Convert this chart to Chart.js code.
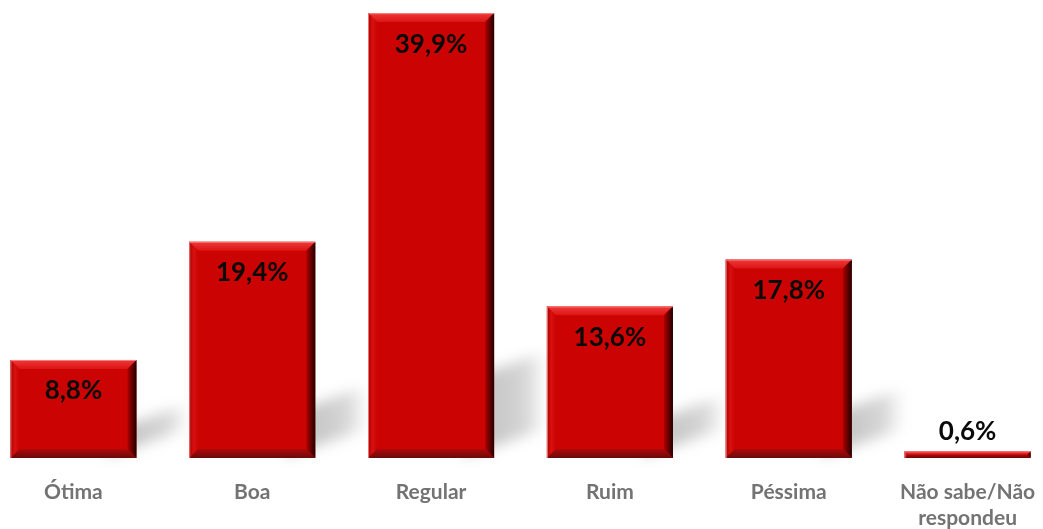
<!DOCTYPE html>
<html>
<head>
<meta charset="utf-8">
<script src="https://cdn.jsdelivr.net/npm/chart.js@4/dist/chart.umd.min.js"></script>
<style>
  html, body { margin: 0; padding: 0; background: #ffffff; overflow: hidden; }
  #wrap { position: absolute; left: -16px; top: 0; width: 1073px; height: 529px; }
</style>
</head>
<body>
<div id="wrap"><canvas id="chart"></canvas></div>
<script>
// Avaliação: categorias e percentuais
const categories = ['Ótima', 'Boa', 'Regular', 'Ruim', 'Péssima', ['Não sabe/Não', 'respondeu']];
const percentages = [8.8, 19.4, 39.9, 13.6, 17.8, 0.6];
const yRange = [0, 40];

const FACE = '#cc0303';

function fmt(v) {
  return v.toFixed(1).replace('.', ',') + '%';
}

// Sombra em perspectiva: faixa inclinada que sai pela direita de cada barra
const shadowPlugin = {
  id: 'barShadow',
  beforeDatasetsDraw(chart) {
    const ctx = chart.ctx;
    const meta = chart.getDatasetMeta(0);
    meta.data.forEach(bar => {
      const R = bar.x + bar.width / 2;
      const T = bar.y, B = bar.base;
      const h = B - T;
      if (h < 15) return;
      const sh = 10 + h * 0.15;
      const ext = 52;
      const slope = 0.35;
      const x0 = R - 30, x1 = R + ext;
      const drop = slope * (x1 - x0);
      const g = ctx.createLinearGradient(R, 0, x1, 0);
      g.addColorStop(0, 'rgba(0,0,0,0.22)');
      g.addColorStop(0.6, 'rgba(0,0,0,0.16)');
      g.addColorStop(1, 'rgba(0,0,0,0.0)');
      ctx.save();
      ctx.filter = 'blur(7px)';
      ctx.fillStyle = g;
      ctx.beginPath();
      ctx.moveTo(x0, B - 1);
      ctx.lineTo(x1, B - 1 - drop);
      ctx.lineTo(x1, B - 1 - drop - sh);
      ctx.lineTo(x0, B - 1 - sh);
      ctx.closePath();
      ctx.fill();
      ctx.restore();
    });
  }
};

// Chanfro das barras e rótulos de valor
const bevelPlugin = {
  id: 'bevelLabels',
  afterDatasetsDraw(chart) {
    const ctx = chart.ctx;
    const meta = chart.getDatasetMeta(0);
    const values = chart.data.datasets[0].data;
    meta.data.forEach((bar, i) => {
      const L = bar.x - bar.width / 2, R = bar.x + bar.width / 2;
      const T = bar.y, B = bar.base;
      const b = Math.min(9, (R - L) / 2, (B - T) / 2);
      let g;
      ctx.save();
      // topo
      g = ctx.createLinearGradient(0, T, 0, T + b);
      g.addColorStop(0, '#ee3a3a');
      g.addColorStop(1, '#dc1414');
      ctx.fillStyle = g;
      ctx.beginPath();
      ctx.moveTo(L, T); ctx.lineTo(R, T); ctx.lineTo(R - b, T + b); ctx.lineTo(L + b, T + b);
      ctx.closePath(); ctx.fill();
      // esquerda
      g = ctx.createLinearGradient(L, 0, L + b, 0);
      g.addColorStop(0, '#a80000');
      g.addColorStop(0.5, '#d81010');
      g.addColorStop(1, FACE);
      ctx.fillStyle = g;
      ctx.beginPath();
      ctx.moveTo(L, T); ctx.lineTo(L + b, T + b); ctx.lineTo(L + b, B - b); ctx.lineTo(L, B);
      ctx.closePath(); ctx.fill();
      // direita
      g = ctx.createLinearGradient(R - b, 0, R, 0);
      g.addColorStop(0, '#b00000');
      g.addColorStop(0.6, '#5a0000');
      g.addColorStop(1, '#200000');
      ctx.fillStyle = g;
      ctx.beginPath();
      ctx.moveTo(R, T); ctx.lineTo(R, B); ctx.lineTo(R - b, B - b); ctx.lineTo(R - b, T + b);
      ctx.closePath(); ctx.fill();
      // base
      g = ctx.createLinearGradient(0, B - b, 0, B);
      g.addColorStop(0, '#b00808');
      g.addColorStop(1, '#6a0a0a');
      ctx.fillStyle = g;
      ctx.beginPath();
      ctx.moveTo(L, B); ctx.lineTo(R, B); ctx.lineTo(R - b, B - b); ctx.lineTo(L + b, B - b);
      ctx.closePath(); ctx.fill();
      // contorno claro
      ctx.strokeStyle = 'rgba(255,170,170,0.7)';
      ctx.lineWidth = 1;
      ctx.beginPath();
      ctx.moveTo(L + 0.5, B); ctx.lineTo(L + 0.5, T + 0.5); ctx.lineTo(R, T + 0.5);
      ctx.stroke();
      ctx.restore();

      // rótulo de valor
      const v = values[i];
      ctx.save();
      ctx.font = 'bold 26px Lato';
      ctx.fillStyle = '#0a0a0a';
      ctx.textAlign = 'center';
      ctx.textBaseline = 'middle';
      const y = (B - T) < 40 ? T - 20 : T + 31;
      ctx.fillText(fmt(v), bar.x, y);
      ctx.restore();
    });
  }
};

new Chart(document.getElementById('chart'), {
  type: 'bar',
  data: {
    labels: categories,
    datasets: [{
      data: percentages,
      backgroundColor: FACE,
      borderWidth: 0,
      barPercentage: 0.705,
      categoryPercentage: 1.0
    }]
  },
  options: {
    responsive: true,
    maintainAspectRatio: false,
    animation: false,
    layout: { padding: { top: 12, left: 0, right: 0, bottom: 0 } },
    plugins: {
      legend: { display: false },
      tooltip: { enabled: false }
    },
    scales: {
      x: {
        grid: { display: false, drawTicks: false },
        border: { display: false },
        ticks: {
          color: '#737373',
          font: { family: 'Lato', weight: 'bold', size: 21, lineHeight: 1.25 },
          padding: 21,
          maxRotation: 0,
          autoSkip: false
        },
        afterFit(scale) { scale.height = 71; }
      },
      y: {
        display: false,
        min: yRange[0],
        max: yRange[1]
      }
    }
  },
  plugins: [shadowPlugin, bevelPlugin]
});
</script>
</body>
</html>
